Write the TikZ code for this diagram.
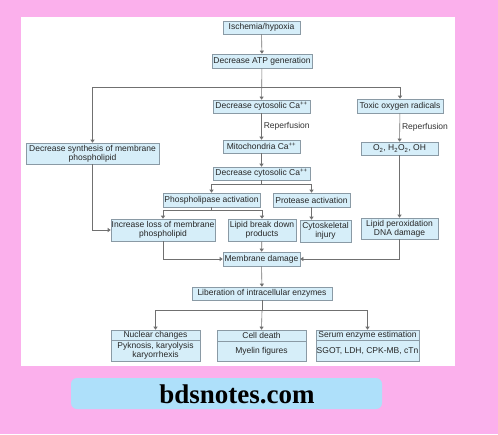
\documentclass[tikz,border=0pt]{standalone}
\usepackage{fontspec}
\setmainfont{Liberation Sans}
\newfontfamily\footfont{Liberation Serif}
\usetikzlibrary{arrows.meta}

\definecolor{pagepink}{HTML}{FBB0EC}
\definecolor{boxfill}{HTML}{D6EEF9}
\definecolor{boxline}{HTML}{8A9AA5}
\definecolor{wireline}{HTML}{707070}
\definecolor{footblue}{HTML}{AEE0FA}

\tikzset{
  box/.style={draw=boxline, fill=boxfill, line width=0.6pt, inner sep=0.3pt,
    align=center, font=\fontsize{8.5}{9.3}\selectfont, text=black!85},
  wire/.style={draw=wireline, line width=0.6pt},
  arr/.style={wire, -{Triangle[width=4pt,length=3pt]}},
  lbl/.style={font=\fontsize{8.5}{9.3}\selectfont, text=black!80, inner sep=2pt},
}

\begin{document}
\begin{tikzpicture}[x=1pt,y=-1pt]
    % page and footer
    \fill[pagepink] (0,0) rectangle (498,434);
    \fill[white] (21,17) rectangle (455,366);
    \fill[footblue, rounded corners=6pt] (71,378) rectangle (382,409);
    \node[font=\footfont\bfseries\fontsize{27}{30}\selectfont] (site) at (237,394) {bdsnotes.com};

    % boxes
    \node[box, minimum width=77, minimum height=13] (isch) at (261.5,27.5) {Ischemia/hypoxia};
    \node[box, minimum width=100, minimum height=14] (atp) at (262,61) {Decrease ATP generation};
    \node[box, minimum width=97, minimum height=13] (dcytoa) at (261.5,106.5) {Decrease cytosolic Ca\textsuperscript{++}};
    \node[box, minimum width=86, minimum height=14] (toxic) at (400,106) {Toxic oxygen radicals};
    \node[box, minimum width=133, minimum height=21] (dsynth) at (92.5,153.5) {Decrease synthesis of membrane\\phospholipid};
    \node[box, minimum width=77, minimum height=13] (mito) at (261.5,146.5) {Mitochondria Ca\textsuperscript{++}};
    \node[box, minimum width=77, minimum height=13] (oxy) at (399.5,148.5) {O\textsubscript{2}, H\textsubscript{2}O\textsubscript{2}, OH};
    \node[box, minimum width=97, minimum height=13] (dcytob) at (261.5,173.5) {Decrease cytosolic Ca\textsuperscript{++}};
    \node[box, minimum width=97, minimum height=14] (phos) at (211.5,200) {Phospholipase activation};
    \node[box, minimum width=77, minimum height=14] (prot) at (311.5,200) {Protease activation};
    \node[box, minimum width=104, minimum height=22] (incr) at (163,230) {Increase loss of membrane\\phospholipid};
    \node[box, minimum width=68, minimum height=22] (lipid) at (262,230) {Lipid break down\\products};
    \node[box, minimum width=51, minimum height=22] (cyto) at (325.5,231) {Cytoskeletal\\injury};
    \node[box, minimum width=77, minimum height=21] (lipox) at (399.5,228.5) {Lipid peroxidation\\DNA damage};
    \node[box, minimum width=77, minimum height=14] (memb) at (261.5,259) {Membrane damage};
    \node[box, minimum width=140, minimum height=13] (liber) at (262,293.5) {Liberation of intracellular enzymes};

    % bottom boxes
    \node[box, minimum width=89, minimum height=10] (nuchead) at (155.5,335) {Nuclear changes};
    \node[box, minimum width=89, minimum height=21, anchor=north] (nucbody) at (nuchead.south) {Pyknosis, karyolysis\\karyorrhexis};
    \node[box, minimum width=89, minimum height=11] (deathhead) at (261.5,335.5) {Cell death};
    \node[box, minimum width=89, minimum height=20, anchor=north] (deathbody) at (deathhead.south) {Myelin figures};
    \node[box, minimum width=103, minimum height=10] (serumhead) at (367.5,335) {Serum enzyme estimation};
    \node[box, minimum width=103, minimum height=21, anchor=north] (serumbody) at (serumhead.south) {SGOT, LDH, CPK-MB, cTn};

    % split points
    \coordinate (splita) at (262,87.5);
    \coordinate (splitb) at (261.5,184);
    \coordinate (splitc) at (211.5,210);
    \coordinate (splitd) at (262,310.7);

    % connectors
    \draw[arr] (isch) -- (atp);
    \draw[arr] (atp) -- (dcytoa);
    \draw[arr] (splita) -| (dsynth.north);
    \draw[arr] (splita) -| (toxic.north);
    \draw[arr] (dcytoa) -- node[lbl, right] {Reperfusion} (mito);
    \draw[arr] (toxic) -- node[lbl, right] {Reperfusion} (oxy);
    \draw[arr] (mito) -- (dcytob);
    \draw[wire] (dcytob) -- (splitb);
    \draw[arr] (splitb) -| (phos.north);
    \draw[arr] (splitb) -| (prot.north);
    \draw[wire] (phos) -- (splitc);
    \draw[arr] (splitc) -| (incr.north);
    \draw[arr] (splitc) -| (lipid.north);
    \draw[arr] (prot) -- (prot |- cyto.north);
    \draw[arr] (oxy) -- (lipox);
    \draw[arr] (dsynth.south) |- (incr.west);
    \draw[arr] (incr.south) |- (memb.west);
    \draw[arr] (lipox.south) |- (memb.east);
    \draw[arr] (lipid) -- (memb);
    \draw[arr] (memb) -- (liber);
    \draw[wire] (liber) -- (splitd);
    \draw[arr] (splitd) -| (nuchead.north);
    \draw[arr] (splitd) -- (deathhead.north);
    \draw[arr] (splitd) -| (serumhead.north);
\end{tikzpicture}
\end{document}
